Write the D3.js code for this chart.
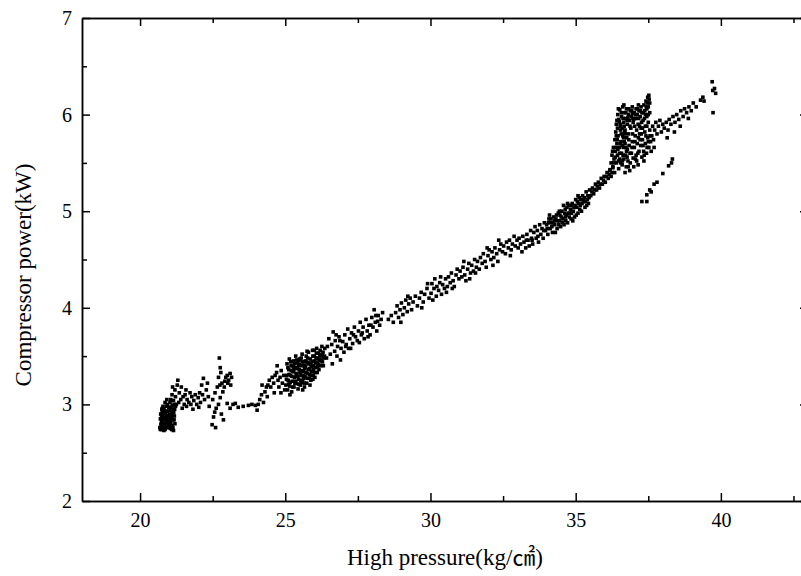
<!DOCTYPE html>
<html>
<head>
<meta charset="utf-8">
<script src="https://cdn.jsdelivr.net/npm/d3@7"></script>
<style>
  body { margin: 0; background: #fff; overflow: hidden; }
  svg { display: block; font-family: "Liberation Serif", "Times New Roman", serif; }
  .axis path, .axis line { stroke: #000; stroke-width: 1.5; }
  .axis text { font-size: 20px; fill: #000; font-family: "Liberation Serif", serif; }
</style>
</head>
<body>
<script>
// tick values
var xTicks = [20, 25, 30, 35, 40];
var xMinor = [22.5, 27.5, 32.5, 37.5, 42.5];
var yTicks = [2, 3, 4, 5, 6, 7];
var yMinor = [2.5, 3.5, 4.5, 5.5, 6.5];

// scatter data, [high pressure, compressor power]
var lowCluster = [
  [20.68,2.76],[20.72,2.79],[20.75,2.74],[20.78,2.82],[20.70,2.85],[20.74,2.88],[20.80,2.76],[20.83,2.80],
  [20.86,2.74],[20.88,2.85],[20.76,2.92],[20.82,2.95],[20.85,2.89],[20.90,2.78],[20.92,2.82],[20.95,2.76],
  [20.97,2.88],[20.93,2.93],[20.99,2.97],[21.02,2.80],[21.05,2.75],[21.04,2.86],[21.08,2.91],[21.10,2.78],
  [21.12,2.84],[21.15,2.73],[21.14,2.95],[21.18,2.88],[21.20,2.80],[21.22,2.98],[20.80,2.86],[20.87,2.92],
  [20.91,2.98],[20.96,2.83],[21.00,2.90],[21.06,2.97],[20.73,2.80],[20.79,2.90],[20.84,2.77],[20.89,2.88],
  [21.01,2.84],[21.09,2.87],[21.16,2.92],[20.71,2.90],[20.94,3.00],[21.03,3.02],[21.11,2.99],[20.77,2.96],
  [20.98,2.79],[21.13,2.76],
  [20.70,2.74],[20.74,2.83],[20.77,2.77],[20.81,2.89],[20.84,2.84],[20.87,2.79],[20.90,2.93],[20.93,2.87],
  [20.96,2.80],[20.99,2.85],[21.03,2.94],[21.06,2.81],[21.09,2.74],[21.12,2.90],[21.17,2.84],[21.19,2.95],
  [20.79,2.98],[20.86,3.02],[20.75,2.95],[21.07,3.04],[21.18,3.00],[20.92,3.05],[21.00,2.76],[20.82,2.73]
];
var lowSpread = [
  [21.05,3.05],[21.10,3.10],[21.15,3.04],[21.20,3.15],[21.22,3.08],[21.28,3.20],[21.30,3.25],[21.25,3.00],
  [21.33,3.02],[21.35,3.12],[21.40,3.05],[21.45,2.96],[21.48,3.08],[21.52,3.00],[21.55,3.10],[21.60,2.98],
  [21.62,3.05],[21.68,3.02],[21.72,3.12],[21.78,3.08],[21.82,2.95],[21.85,3.04],[21.90,3.10],[21.95,3.00],
  [22.00,3.07],[22.05,3.12],[22.08,3.02],[22.12,3.20],[22.15,3.10],[22.18,3.27],[22.22,3.05],[22.28,3.15],
  [22.32,3.22],[22.35,3.08],[22.38,2.98],[21.42,3.18],[21.58,3.15],[21.75,3.00],[22.02,2.97],[21.12,3.18]
];
var spike = [
  [22.48,2.79],[22.60,2.76],[22.53,2.87],[22.57,2.92],[22.62,2.96],[22.70,3.00],[22.76,3.07],[22.80,2.90],
  [22.87,2.84],[22.85,3.13],[22.66,3.18],[22.75,3.20],[22.82,3.22],[22.90,3.18],[22.73,3.48],[22.76,3.38],
  [22.78,3.33],[22.95,3.28],[23.00,3.30],[23.05,3.25],[23.10,3.32],[23.15,3.28],[22.92,3.24],[22.58,3.12],
  [22.50,3.05],[23.02,3.22],[22.70,3.28],[23.12,3.20]
];
var tail = [
  [23.00,3.01],[23.10,2.96],[23.28,3.01],[23.38,2.97],[23.55,2.98],[23.73,2.99],[23.97,2.99],[24.03,2.94],
  [23.20,3.00],[23.85,3.00]
];
var rise = [
  [24.07,3.00],[24.12,3.05],[24.18,3.10],[24.25,3.02],[24.30,3.13],[24.38,3.08],[24.40,3.20],[24.45,3.25],
  [24.50,3.18],[24.55,3.28],[24.60,3.22],[24.65,3.30],[24.70,3.33],[24.75,3.25],[24.78,3.18],[24.82,3.28],
  [24.86,3.35],[24.90,3.22],[24.95,3.30],[24.98,3.15],[24.35,3.18],[24.62,3.12],[24.85,3.12],[24.20,3.20],
  [24.72,3.40]
];
var cluster25 = [
  [25.02,3.20],[25.05,3.30],[25.06,3.42],[25.08,3.15],[25.10,3.25],[25.12,3.36],[25.14,3.47],[25.15,3.19],
  [25.18,3.30],[25.20,3.40],[25.22,3.13],[25.24,3.24],[25.26,3.34],[25.28,3.45],[25.30,3.18],[25.32,3.28],
  [25.34,3.38],[25.36,3.50],[25.38,3.22],[25.40,3.32],[25.42,3.43],[25.44,3.16],[25.46,3.26],[25.48,3.36],
  [25.50,3.47],[25.52,3.20],[25.54,3.30],[25.56,3.40],[25.58,3.52],[25.60,3.24],[25.62,3.34],[25.64,3.44],
  [25.66,3.18],[25.68,3.29],[25.70,3.39],[25.72,3.50],[25.74,3.22],[25.76,3.32],[25.78,3.42],[25.80,3.54],
  [25.82,3.27],[25.84,3.37],[25.86,3.47],[25.88,3.25],[25.90,3.34],[25.92,3.44],[25.94,3.56],[25.96,3.30],
  [25.98,3.40],[26.00,3.50],[26.02,3.28],[26.04,3.38],[26.06,3.48],[26.08,3.58],[26.10,3.33],[26.12,3.43],
  [26.14,3.53],[26.16,3.36],[26.18,3.46],[26.20,3.56],[26.22,3.40],[26.24,3.50],[26.26,3.60],[26.28,3.44],
  [26.30,3.54],[26.33,3.48],[26.36,3.58],[25.11,3.21],[25.27,3.39],[25.43,3.29],[25.57,3.35],[25.69,3.45],
  [25.83,3.31],[25.97,3.36],[26.11,3.39],[26.25,3.45],[25.35,3.24],[25.49,3.41],[25.63,3.27],[25.77,3.48],
  [25.91,3.39],[26.05,3.43],[26.19,3.51],[25.21,3.35],[25.39,3.46],[25.53,3.25],[25.67,3.37],[25.81,3.43],
  [25.95,3.50],[26.09,3.47],[25.16,3.10],[25.60,3.15],[25.85,3.20],
  [25.04,3.26],[25.09,3.38],[25.13,3.31],[25.17,3.23],[25.19,3.44],[25.23,3.29],[25.25,3.18],[25.29,3.34],
  [25.31,3.42],[25.33,3.22],[25.37,3.31],[25.41,3.37],[25.45,3.21],[25.47,3.45],[25.51,3.33],[25.55,3.23],
  [25.59,3.44],[25.61,3.30],[25.65,3.40],[25.71,3.33],[25.73,3.44],[25.75,3.27],[25.79,3.36],[25.87,3.41],
  [25.89,3.30],[25.93,3.34],[25.99,3.45],[26.03,3.33],[26.07,3.53],[26.13,3.48],[26.15,3.41],[26.21,3.46],
  [26.27,3.52],[26.31,3.40],[26.35,3.50],[25.55,3.48],[25.75,3.55],[25.45,3.40],[26.00,3.56],[25.30,3.37],
  [25.65,3.22],[25.95,3.26]
];
var band27 = [
  [26.42,3.48],[26.45,3.60],[26.50,3.68],[26.55,3.52],[26.60,3.62],[26.65,3.75],[26.70,3.55],[26.72,3.66],
  [26.78,3.50],[26.80,3.60],[26.85,3.70],[26.90,3.46],[26.92,3.58],[26.98,3.65],[27.02,3.54],[27.05,3.72],
  [27.10,3.62],[27.15,3.78],[27.18,3.58],[27.22,3.68],[27.28,3.74],[27.32,3.63],[27.38,3.80],[27.42,3.70],
  [27.48,3.66],[27.52,3.76],[27.58,3.85],[27.62,3.72],[27.68,3.80],[27.72,3.68],[27.78,3.88],[27.82,3.76],
  [27.88,3.82],[27.92,3.72],[27.98,3.90],[28.02,3.80],[28.06,3.98],[28.10,3.85],[28.15,3.76],[28.20,3.92],
  [28.25,3.82],[28.30,3.88],[28.35,3.95],[26.62,3.42],[26.88,3.66],[27.08,3.60],[27.35,3.72],[27.65,3.74],
  [27.95,3.82],[28.18,3.86],[26.75,3.72],[27.25,3.58],[27.55,3.64],[27.85,3.70],[28.12,3.92]
];
var band29 = [
  [28.55,3.88],[28.65,3.92],[28.72,3.85],[28.80,3.95],[28.85,4.02],[28.90,3.90],[28.95,3.98],[29.00,4.05],
  [29.05,3.93],[29.10,4.00],[29.15,4.08],[29.20,3.96],[29.25,4.04],[29.30,4.10],[29.35,3.98],[29.40,4.06],
  [29.48,4.12],[29.55,4.02],[29.62,4.10],[29.68,4.16],[29.75,4.06],[29.80,4.14],[29.88,4.20],[29.95,4.10],
  [28.98,3.85],[29.22,4.12],[29.70,4.00],[29.90,4.25]
];
var band31 = [
  [30.02,4.15],[30.05,4.25],[30.08,4.08],[30.12,4.20],[30.15,4.30],[30.20,4.12],[30.22,4.22],[30.28,4.18],
  [30.32,4.26],[30.38,4.14],[30.42,4.24],[30.48,4.20],[30.52,4.30],[30.58,4.22],[30.62,4.32],[30.68,4.26],
  [30.72,4.36],[30.78,4.28],[30.82,4.22],[30.88,4.34],[30.92,4.40],[30.98,4.30],[31.02,4.38],[31.08,4.32],
  [31.12,4.42],[31.18,4.34],[31.22,4.28],[31.28,4.40],[31.32,4.46],[31.38,4.36],[31.42,4.44],[31.48,4.38],
  [31.52,4.50],[31.58,4.42],[31.62,4.48],[31.68,4.40],[31.72,4.52],[31.78,4.46],[31.82,4.56],[31.88,4.48],
  [31.92,4.42],[31.98,4.54],[32.02,4.60],[32.08,4.50],[32.12,4.58],[32.18,4.52],[32.22,4.62],[32.28,4.56],
  [32.32,4.48],[32.38,4.60],[32.42,4.66],[32.48,4.58],[32.52,4.64],[32.58,4.56],[32.62,4.68],[32.68,4.62],
  [32.72,4.70],[32.78,4.60],[32.82,4.66],[32.88,4.74],[32.92,4.64],[32.98,4.70],[30.35,4.32],[30.75,4.20],
  [31.15,4.48],[31.55,4.36],[31.95,4.62],[32.35,4.70],[32.75,4.54],[30.55,4.16],[31.35,4.30],[32.15,4.44]
];
var band35 = [
  [33.02,4.62],[33.05,4.72],[33.10,4.66],[33.15,4.58],[33.18,4.74],[33.22,4.68],[33.28,4.62],[33.32,4.76],
  [33.36,4.70],[33.40,4.64],[33.45,4.80],[33.48,4.72],[33.52,4.66],[33.56,4.78],[33.60,4.84],[33.64,4.72],
  [33.68,4.80],[33.72,4.68],[33.76,4.86],[33.80,4.76],[33.84,4.82],[33.88,4.72],[33.92,4.88],[33.96,4.80],
  [34.00,4.86],[34.04,4.76],[34.08,4.92],[34.12,4.82],[34.16,4.88],[34.20,4.78],[34.24,4.94],[34.28,4.86],
  [34.32,4.92],[34.36,4.82],[34.40,4.98],[34.44,4.90],[34.48,4.84],[34.52,5.00],[34.56,4.92],[34.60,4.86],
  [34.64,5.02],[34.68,4.96],[34.72,4.88],[34.76,5.06],[34.80,4.98],[34.84,4.92],[34.88,5.08],[34.92,5.00],
  [34.96,4.94],[35.00,5.12],[35.04,5.04],[35.08,4.98],[35.12,5.14],[35.16,5.06],[35.20,5.00],[35.24,5.16],
  [35.28,5.10],[35.32,5.04],[35.36,5.20],[35.40,5.12],[35.44,5.08],[35.48,5.22],[35.52,5.16],[35.58,5.24],
  [35.62,5.18],[35.68,5.28],[35.72,5.22],[35.78,5.30],[35.82,5.24],[35.88,5.34],[35.92,5.28],[35.98,5.36],
  [36.02,5.30],[36.08,5.40],[36.12,5.34],[36.18,5.42],[36.22,5.36],[36.28,5.45],[34.10,4.96],[34.30,4.78],
  [34.50,4.94],[34.70,5.04],[34.90,4.90],[35.10,5.08],[35.30,5.14],[34.42,4.86],[34.62,4.98],[34.82,5.02],
  [35.02,4.96],[35.22,5.08],[34.22,4.88],[34.58,5.06],[34.78,4.94],[34.98,5.06],[35.18,5.12],[35.38,5.06],
  [33.70,4.74],[33.90,4.80],[33.50,4.70],[33.30,4.70],[34.34,4.96],[34.66,4.90],[34.86,4.98],
  [34.02,4.82],[34.06,4.88],[34.14,4.92],[34.18,4.84],[34.26,4.90],[34.38,4.90],[34.46,4.96],[34.54,4.88],
  [34.64,4.94],[34.74,4.98],[34.84,5.06],[34.94,5.04],[35.06,5.10],[35.14,5.02],[35.26,5.12],[35.34,5.10],
  [35.42,5.16],[35.46,5.14],[35.56,5.20],[35.66,5.22],[35.74,5.26],[35.86,5.28],[35.96,5.32],[36.06,5.36],
  [36.16,5.38],[36.26,5.40],[34.44,5.00],[34.72,5.08],[35.08,5.16]
];
var topBlock = [
  [36.40,5.90],[36.45,6.00],[36.48,5.95],[36.52,6.05],[36.55,5.88],[36.58,5.98],[36.62,6.08],[36.65,5.92],
  [36.68,6.02],[36.72,5.96],[36.75,6.06],[36.78,5.90],[36.82,6.00],[36.85,5.94],[36.88,6.04],[36.92,5.98],
  [36.95,6.08],[36.98,5.92],[37.02,6.02],[37.05,5.96],[37.08,6.06],[37.12,6.00],[37.15,5.90],[37.18,6.04],
  [37.22,5.98],[37.25,6.08],[37.28,6.02],[37.32,5.94],[37.35,6.10],[37.38,6.04],[37.42,6.14],[37.45,5.98],
  [37.48,6.18],[37.50,6.08],[37.52,6.20],[37.50,5.92],[37.45,6.06],[37.40,5.88],[36.44,5.86],[36.60,5.86],
  [36.70,5.84],[36.90,5.86],[37.10,5.84],[37.20,5.88],[37.30,5.86],[36.50,5.93],[36.80,5.97],[37.00,5.95],
  [37.40,6.00],[36.96,6.01],[37.16,6.10],[36.66,6.10],[37.55,6.12],[37.55,6.02],
  [36.42,5.94],[36.47,6.06],[36.53,5.90],[36.57,6.02],[36.63,5.96],[36.67,5.88],[36.73,6.02],[36.77,5.94],
  [36.83,6.06],[36.87,5.88],[36.93,6.04],[36.97,5.96],[37.03,5.88],[37.07,6.00],[37.13,6.06],[37.17,5.96],
  [37.23,6.04],[37.27,5.92],[37.33,6.02],[37.37,5.96],[37.43,6.08],[37.47,6.12],[37.53,6.16],[37.50,6.00]
];
var column = [
  [36.18,5.43],[36.22,5.50],[36.25,5.58],[36.28,5.46],[36.30,5.66],[36.32,5.54],[36.35,5.74],[36.36,5.62],
  [36.38,5.82],[36.40,5.50],[36.42,5.70],[36.44,5.58],[36.46,5.78],[36.48,5.44],[36.50,5.66],[36.52,5.54],
  [36.54,5.84],[36.56,5.72],[36.58,5.60],[36.60,5.48],[36.62,5.78],[36.64,5.66],[36.66,5.54],[36.68,5.82],
  [36.70,5.70],[36.72,5.58],[36.74,5.46],[36.76,5.76],[36.78,5.64],[36.80,5.52],[36.82,5.80],[36.84,5.68],
  [36.86,5.42],[36.34,5.40],[36.45,5.64],[36.55,5.50],[36.65,5.76],[36.75,5.62],[36.40,5.78],[36.60,5.68],
  [36.70,5.40],
  [36.31,5.50],[36.37,5.56],[36.43,5.74],[36.47,5.52],[36.53,5.70],[36.57,5.80],[36.63,5.58],[36.67,5.72],
  [36.73,5.66],[36.77,5.56],[36.83,5.74],[36.87,5.60],[36.27,5.62],[36.39,5.66],[36.51,5.60],[36.61,5.52],
  [36.71,5.80],[36.81,5.46]
];
var midBranch = [
  [36.88,5.50],[36.92,5.60],[36.95,5.72],[36.98,5.55],[37.02,5.66],[37.05,5.78],[37.08,5.58],[37.12,5.70],
  [37.15,5.48],[37.18,5.62],[37.20,5.80],[37.24,5.68],[37.28,5.56],[37.30,5.74],[37.34,5.62],[37.38,5.82],
  [37.40,5.70],[37.44,5.60],[37.48,5.76],[37.52,5.66],[37.55,5.84],[37.58,5.72],[37.62,5.78],[37.65,5.88],
  [37.68,5.74],[37.72,5.84],[37.76,5.92],[37.80,5.80],[37.85,5.88],[37.90,5.94],[37.00,5.46],[37.10,5.52],
  [37.35,5.52],[37.60,5.62],[37.25,5.86],[37.45,5.88],[37.70,5.66],
  [36.94,5.66],[37.04,5.72],[37.14,5.60],[37.22,5.74],[37.32,5.68],[37.42,5.78],[37.50,5.72],[37.56,5.78],
  [36.96,5.80],[37.06,5.54],[37.26,5.80],[37.46,5.66],[37.36,5.58],[37.16,5.76]
];
var lowBranch = [
  [37.28,5.10],[37.45,5.10],[37.45,5.17],[37.55,5.22],[37.60,5.20],[37.70,5.28],[37.80,5.30],[38.00,5.39],
  [38.20,5.47],[38.30,5.50],[38.33,5.54]
];
var upperRight = [
  [37.95,5.82],[38.00,5.90],[38.05,5.86],[38.12,5.92],[38.18,5.84],[38.22,5.95],[38.28,5.90],[38.35,5.98],
  [38.42,5.92],[38.48,6.00],[38.55,5.95],[38.62,6.04],[38.70,5.98],[38.75,6.06],[38.82,6.02],[38.90,6.08],
  [38.98,6.04],[39.05,6.12],[39.15,6.08],[39.30,6.15],[39.38,6.18],[39.42,6.14],[39.70,6.34],[39.72,6.25],
  [39.78,6.27],[39.82,6.22],[39.73,6.02],[38.15,5.76],[38.40,5.82],[38.60,5.88],[38.88,5.96]
];

var points = [].concat(lowCluster, lowSpread, spike, tail, rise, cluster25, band27,
  band29, band31, band35, topBlock, column, midBranch, lowBranch, upperRight);

function draw() {
  var w = 801, h = 576;
  var pLeft = 82, pRight = 808, pTop = 18, pBottom = 501;
  var s = 3.6; // marker side

  var svg = d3.select("body").append("svg")
    .attr("width", w)
    .attr("height", h);

  var x = d3.scaleLinear().domain([18, 43]).range([pLeft, pRight]);
  var y = d3.scaleLinear().domain([2, 7]).range([pBottom, pTop]);

  // points
  svg.append("g")
    .selectAll("rect")
    .data(points)
    .enter().append("rect")
    .attr("x", function(d) { return x(d[0]) - s / 2; })
    .attr("y", function(d) { return y(d[1]) - s / 2; })
    .attr("width", s)
    .attr("height", s)
    .attr("fill", "#000");

  var fmt = d3.format("d");

  // bottom axis with labels, inward ticks
  svg.append("g").attr("class", "axis")
    .attr("transform", "translate(0," + pBottom + ")")
    .call(d3.axisBottom(x).tickValues(xTicks).tickFormat(fmt).tickSizeInner(-8).tickSizeOuter(0).tickPadding(12));
  svg.append("g").attr("class", "axis")
    .attr("transform", "translate(0," + pBottom + ")")
    .call(d3.axisBottom(x).tickValues(xMinor).tickSizeInner(-5).tickSizeOuter(0).tickFormat(""));

  // top axis
  svg.append("g").attr("class", "axis")
    .attr("transform", "translate(0," + pTop + ")")
    .call(d3.axisTop(x).tickValues(xTicks).tickSizeInner(-8).tickSizeOuter(0).tickFormat(""));
  svg.append("g").attr("class", "axis")
    .attr("transform", "translate(0," + pTop + ")")
    .call(d3.axisTop(x).tickValues(xMinor).tickSizeInner(-5).tickSizeOuter(0).tickFormat(""));

  // left axis
  svg.append("g").attr("class", "axis")
    .attr("transform", "translate(" + pLeft + ",0)")
    .call(d3.axisLeft(y).tickValues(yTicks).tickFormat(fmt).tickSizeInner(-8).tickSizeOuter(0).tickPadding(10));
  svg.append("g").attr("class", "axis")
    .attr("transform", "translate(" + pLeft + ",0)")
    .call(d3.axisLeft(y).tickValues(yMinor).tickSizeInner(-5).tickSizeOuter(0).tickFormat(""));

  // right axis (sits just past the picture edge, only ticks show)
  svg.append("g").attr("class", "axis")
    .attr("transform", "translate(" + pRight + ",0)")
    .call(d3.axisRight(y).tickValues(yTicks).tickSizeInner(-8).tickSizeOuter(0).tickFormat(""));
  svg.append("g").attr("class", "axis")
    .attr("transform", "translate(" + pRight + ",0)")
    .call(d3.axisRight(y).tickValues(yMinor).tickSizeInner(-5).tickSizeOuter(0).tickFormat(""));

  // axis titles
  svg.append("text")
    .attr("x", (pLeft + pRight) / 2)
    .attr("y", 565)
    .attr("text-anchor", "middle")
    .style("font-size", "23px")
    .style("font-family", "'Liberation Serif', 'Noto Sans CJK KR', serif")
    .text("High pressure(kg/㎠)");

  svg.append("text")
    .attr("transform", "translate(31,275) rotate(-90)")
    .attr("text-anchor", "middle")
    .style("font-size", "23px")
    .text("Compressor power(kW)");
}

draw();
</script>
</body>
</html>
